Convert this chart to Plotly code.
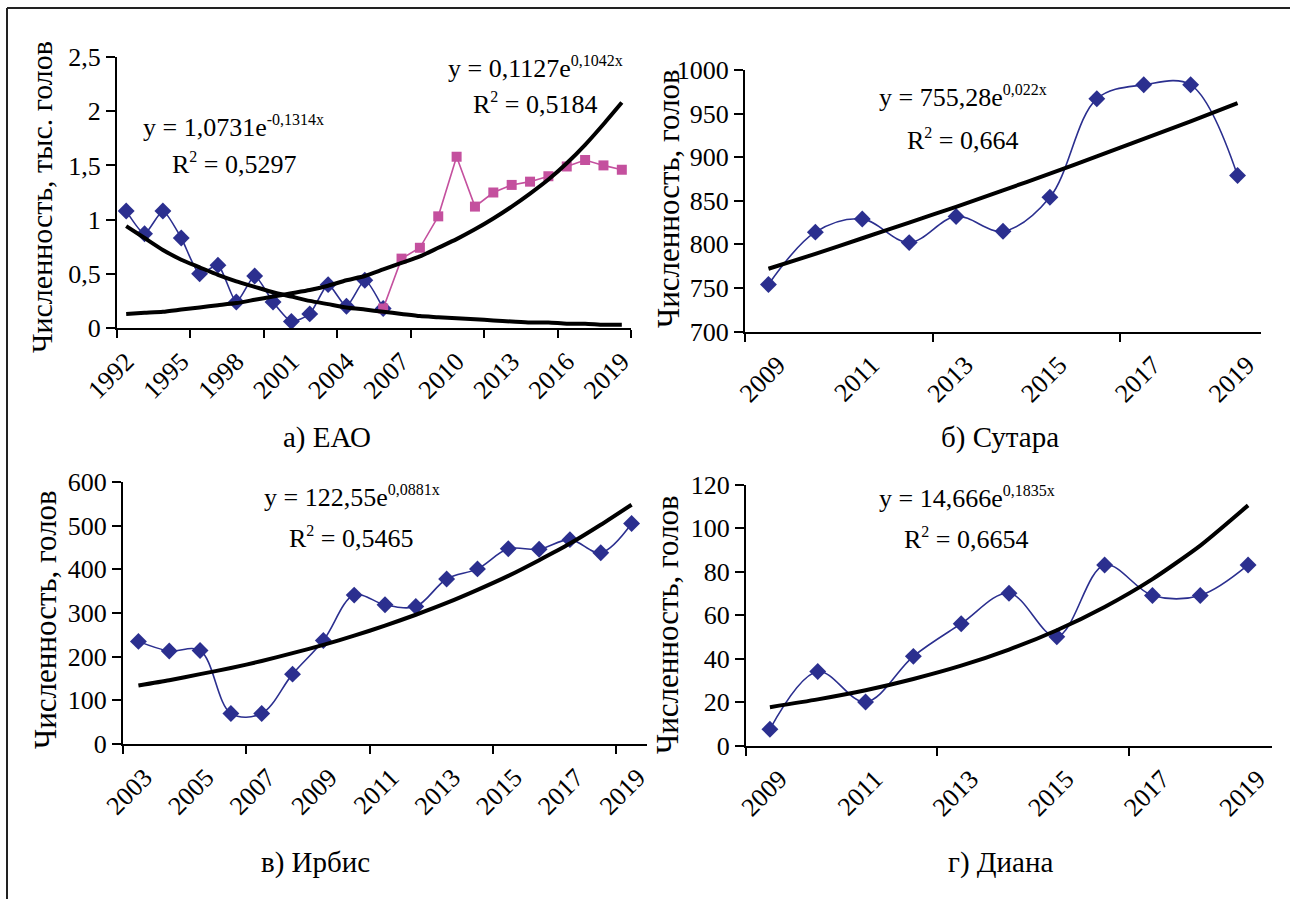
import plotly.graph_objects as go

W, H = 1290, 899
FONT = "Liberation Serif, Times New Roman, serif"
BLUE = "#2b2f8f"
PINK = "#c4509e"

# ---------------- data ----------------
# а) ЕАО
years_a = list(range(1992, 2020))
blue_years_a = list(range(1992, 2007))
blue_a = [1.08, 0.87, 1.08, 0.83, 0.50, 0.58, 0.24, 0.48, 0.24, 0.06, 0.13, 0.40, 0.20, 0.44, 0.18]
pink_years_a = list(range(2006, 2020))
pink_a = [0.18, 0.64, 0.74, 1.03, 1.58, 1.12, 1.25, 1.32, 1.35, 1.40, 1.49, 1.55, 1.50, 1.46]
trend_down_a = [0.94, 0.83, 0.72, 0.63, 0.56, 0.49, 0.43, 0.38, 0.33, 0.29, 0.25, 0.22, 0.19, 0.17,
                0.15, 0.13, 0.11, 0.10, 0.09, 0.08, 0.07, 0.06, 0.05, 0.05, 0.04, 0.04, 0.03, 0.03]
trend_up_a = [0.13, 0.14, 0.15, 0.17, 0.19, 0.21, 0.23, 0.26, 0.29, 0.32, 0.35, 0.39, 0.44, 0.48,
              0.54, 0.60, 0.66, 0.74, 0.82, 0.91, 1.01, 1.12, 1.24, 1.37, 1.52, 1.69, 1.88, 2.08]
xlabels_a = [1992, 1995, 1998, 2001, 2004, 2007, 2010, 2013, 2016, 2019]
yticks_a = [0, 0.5, 1, 1.5, 2, 2.5]
yticktext_a = ["0", "0,5", "1", "1,5", "2", "2,5"]

# б) Сутара
years_b = list(range(2009, 2020))
vals_b = [754, 814, 829, 802, 832, 815, 854, 967, 983, 983, 879]
trend_b = [772, 789, 807, 825, 843, 862, 881, 901, 921, 941, 962]
xlabels_b = [2009, 2011, 2013, 2015, 2017, 2019]
yticks_b = [700, 750, 800, 850, 900, 950, 1000]
yticktext_b = ["700", "750", "800", "850", "900", "950", "1000"]

# в) Ирбис
years_c = list(range(2003, 2020))
vals_c = [235, 213, 214, 70, 70, 160, 237, 341, 319, 315, 378, 401, 447, 446, 468, 438, 505]
trend_c = [134, 146, 160, 174, 190, 208, 227, 248, 271, 296, 323, 353, 385, 421, 459, 502, 548]
xlabels_c = [2003, 2005, 2007, 2009, 2011, 2013, 2015, 2017, 2019]
yticks_c = [0, 100, 200, 300, 400, 500, 600]
yticktext_c = ["0", "100", "200", "300", "400", "500", "600"]

# г) Диана
years_d = list(range(2009, 2020))
vals_d = [7.5, 34, 20, 41, 56, 70, 50, 83, 69, 69, 83]
trend_d = [17.6, 21.2, 25.4, 30.6, 36.7, 44.1, 53.0, 63.7, 76.5, 91.9, 110.4]
xlabels_d = [2009, 2011, 2013, 2015, 2017, 2019]
yticks_d = [0, 20, 40, 60, 80, 100, 120]
yticktext_d = ["0", "20", "40", "60", "80", "100", "120"]

# ---------------- figure ----------------
fig = go.Figure()

def blue_trace(x, y, ax, smoothing=1.0):
    return go.Scatter(x=x, y=y, mode="lines+markers", xaxis="x" + ax, yaxis="y" + ax,
                      line=dict(color=BLUE, width=1.6, shape="spline", smoothing=smoothing),
                      marker=dict(symbol="diamond", size=13, color=BLUE),
                      showlegend=False, hoverinfo="skip")

def trend_trace(x, y, ax):
    return go.Scatter(x=x, y=y, mode="lines", xaxis="x" + ax, yaxis="y" + ax,
                      line=dict(color="black", width=4, shape="spline", smoothing=0.6),
                      showlegend=False, hoverinfo="skip")

# panel a
fig.add_trace(blue_trace(blue_years_a, blue_a, "", smoothing=0.6))
fig.add_trace(go.Scatter(x=pink_years_a, y=pink_a, mode="lines+markers", xaxis="x", yaxis="y",
                         line=dict(color=PINK, width=1.6),
                         marker=dict(symbol="square", size=10, color=PINK),
                         showlegend=False, hoverinfo="skip"))
fig.add_trace(trend_trace(years_a, trend_down_a, ""))
fig.add_trace(trend_trace(years_a, trend_up_a, ""))
# panel b
fig.add_trace(blue_trace(years_b, vals_b, "2"))
fig.add_trace(trend_trace(years_b, trend_b, "2"))
# panel c
fig.add_trace(blue_trace(years_c, vals_c, "3"))
fig.add_trace(trend_trace(years_c, trend_c, "3"))
# panel d
fig.add_trace(blue_trace(years_d, vals_d, "4"))
fig.add_trace(trend_trace(years_d, trend_d, "4"))

XTICKFONT = dict(family=FONT, size=26, color="black")
YTICKFONT = dict(family=FONT, size=26, color="black")

def px_x(a, b):
    return [a / W, b / W]

def px_y(top, bottom):
    return [(H - bottom) / H, (H - top) / H]

def make_xaxis(domain, first, last, labels, yref, shift=0.0):
    minor_vals = [first - 0.5 + 4 * k for k in range(0, 20) if first - 0.5 + 4 * k <= last + 0.5]
    return dict(domain=domain, range=[first - 0.5, last + 0.5], anchor=yref,
                automargin=False,
                tickmode="array", tickvals=[v + shift for v in labels],
                ticktext=[str(v) for v in labels],
                ticks="", tickangle=-45, tickfont=XTICKFONT, ticklabelstandoff=6,
                showline=True, linecolor="black", linewidth=2,
                showgrid=False, zeroline=False, fixedrange=True,
                minor=dict(tickmode="array", tickvals=minor_vals, ticks="outside",
                           ticklen=8, tickwidth=2, tickcolor="black", showgrid=False))

def make_yaxis(domain, rng, vals, text, xref):
    return dict(domain=domain, range=rng, anchor=xref, automargin=False,
                tickmode="array", tickvals=vals, ticktext=text,
                ticks="outside", ticklen=9, tickwidth=2, tickcolor="black",
                tickfont=YTICKFONT, showline=True, linecolor="black", linewidth=2,
                showgrid=False, zeroline=False, fixedrange=True)

fig.update_layout(
    template="none",
    width=W, height=H, autosize=False,
    margin=dict(l=0, r=0, t=0, b=0, pad=0),
    paper_bgcolor="white", plot_bgcolor="rgba(0,0,0,0)",
    font=dict(family=FONT, color="black"),
    showlegend=False,
    xaxis=make_xaxis(px_x(117, 631), 1992, 2019, xlabels_a, "y"),
    yaxis=make_yaxis(px_y(57, 328), [0, 2.5], yticks_a, yticktext_a, "x"),
    xaxis2=make_xaxis(px_x(745, 1261), 2009, 2019, xlabels_b, "y2", shift=0.2),
    yaxis2=make_yaxis(px_y(70, 331.5), [700, 1000], yticks_b, yticktext_b, "x2"),
    xaxis3=make_xaxis(px_x(123, 647), 2003, 2019, xlabels_c, "y3", shift=0.2),
    yaxis3=make_yaxis(px_y(482, 744), [0, 600], yticks_c, yticktext_c, "x3"),
    xaxis4=make_xaxis(px_x(746, 1272), 2009, 2019, xlabels_d, "y4", shift=0.2),
    yaxis4=make_yaxis(px_y(484.5, 745.5), [0, 120], yticks_d, yticktext_d, "x4"),
)

def note(text, x, y, size=26, xanchor="left", angle=0):
    fig.add_annotation(text=text, x=x / W, y=1 - y / H, xref="paper", yref="paper",
                       xanchor=xanchor, yanchor="middle", showarrow=False,
                       textangle=angle, font=dict(family=FONT, size=size, color="black"))

def eq(base, power):
    return base + "<sup><span style='font-size:16px'>" + power + "</span></sup>"

def r2(value):
    return "R<sup><span style='font-size:16px'>2</span></sup> = " + value

# equations
note(eq("y = 1,0731e", "-0,1314x"), 141, 127)
note(r2("0,5297"), 170, 163)
note(eq("y = 0,1127e", "0,1042x"), 446, 68)
note(r2("0,5184"), 471, 103)
note(eq("y = 755,28e", "0,022x"), 877, 97)
note(r2("0,664"), 905, 139)
note(eq("y = 122,55e", "0,0881x"), 262, 496)
note(r2("0,5465"), 287, 537)
note(eq("y = 14,666e", "0,1835x"), 877, 497)
note(r2("0,6654"), 902, 538)

# axis titles
note("Численность, тыс. голов", 42, 197, size=30, xanchor="center", angle=-90)
note("Численность, голов", 668, 199, size=31, xanchor="center", angle=-90)
note("Численность, голов", 45, 620, size=31, xanchor="center", angle=-90)
note("Численность, голов", 667, 625, size=31, xanchor="center", angle=-90)

# captions
note("а) ЕАО", 327, 437, size=29, xanchor="center")
note("б) Сутара", 1000, 437, size=29, xanchor="center")
note("в) Ирбис", 315, 862, size=29, xanchor="center")
note("г) Диана", 1000, 862, size=29, xanchor="center")

# frame (left and top border)
fig.add_shape(type="line", xref="paper", yref="paper", x0=7 / W, x1=7 / W, y0=0, y1=1 - 8 / H,
              line=dict(color="#222222", width=2))
fig.add_shape(type="line", xref="paper", yref="paper", x0=7 / W, x1=1, y0=1 - 8 / H, y1=1 - 8 / H,
              line=dict(color="#222222", width=2))

fig.write_html("out.html")
